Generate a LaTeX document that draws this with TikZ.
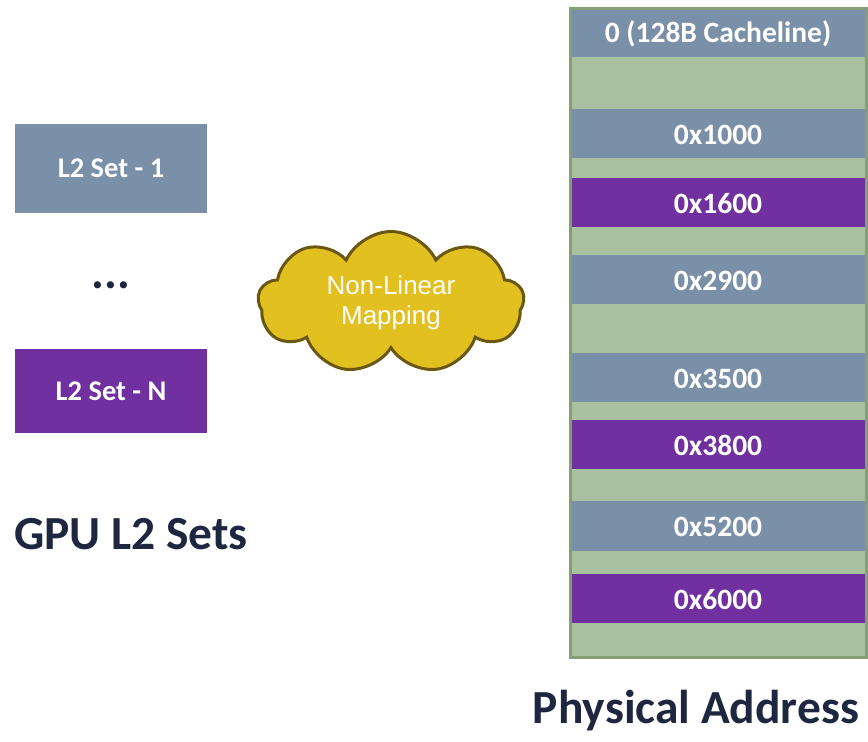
\documentclass[tikz,border=0pt]{standalone}
\usepackage{fontspec}
\setmainfont{Carlito}
\newfontfamily\cloudfont{Liberation Sans}
\usetikzlibrary{positioning,shapes.symbols}
\definecolor{setBlue}{HTML}{7A8FA8}
\definecolor{setPurple}{HTML}{7030A0}
\definecolor{colGreen}{HTML}{A8C0A0}
\definecolor{colEdge}{HTML}{82A074}
\definecolor{cloudFill}{HTML}{E2C020}
\definecolor{cloudEdge}{HTML}{6A5810}
\definecolor{inkNavy}{HTML}{1E2640}

\begin{document}
\begin{tikzpicture}[
  x=1pt, y=-1pt,
  setbox/.style={inner sep=0pt, text=white, font=\fontsize{28.5}{30}\selectfont\bfseries, minimum width=192pt},
  band/.style={inner sep=0pt, text=white, font=\fontsize{29.5}{30}\selectfont\bfseries},
  title/.style={anchor=base, text=inkNavy, font=\fontsize{47.5}{50}\selectfont\bfseries},
]
\useasboundingbox (0,0) rectangle (868,742);

% =========================== GPU L2 SETS ===========================
\node[setbox, fill=setBlue, minimum height=89pt] (set1) at (111,168.5) {L2 Set - 1};
\node[anchor=base, text=inkNavy, font=\fontsize{48}{48}\selectfont\bfseries] (dots) at (111,288) {...};
\node[setbox, fill=setPurple, minimum height=84pt] (setN) at (111,391) {L2 Set - N};
\node[title] (gputitle) at (131,549) {GPU L2 Sets};

% =========================== MAPPING CLOUD ===========================
\node[cloud, cloud puffs=9, cloud puff arc=130, aspect=1.85, draw=cloudEdge, line width=3pt,
  fill=cloudFill, minimum width=266pt, minimum height=142pt, align=center, text=white,
  font=\cloudfont\fontsize{26}{30}\selectfont] (map) at (391,302.5) {Non-Linear\\Mapping};

% =========================== PHYSICAL ADDRESS COLUMN ===========================
\fill[colGreen] (570,8) rectangle (866,657);
\foreach \top/\bot/\col/\lab [count=\i] in {
    8/57/setBlue/{0 (128B Cacheline)},
    109/158/setBlue/0x1000,
    178/227/setPurple/0x1600,
    255/304/setBlue/0x2900,
    353/402/setBlue/0x3500,
    420/469/setPurple/0x3800,
    501/551/setBlue/0x5200,
    574/623/setPurple/0x6000}{
  \fill[\col] (571,\top) rectangle (866,\bot);
  \node[band] (row\i) at (718,{(\top+\bot)/2+1}) {\lab};
}
\draw[colEdge, line width=3pt] (570,8) rectangle (866,657);
\node[title] (addrtitle) at (696,723) {Physical Address};

\end{tikzpicture}
\end{document}
